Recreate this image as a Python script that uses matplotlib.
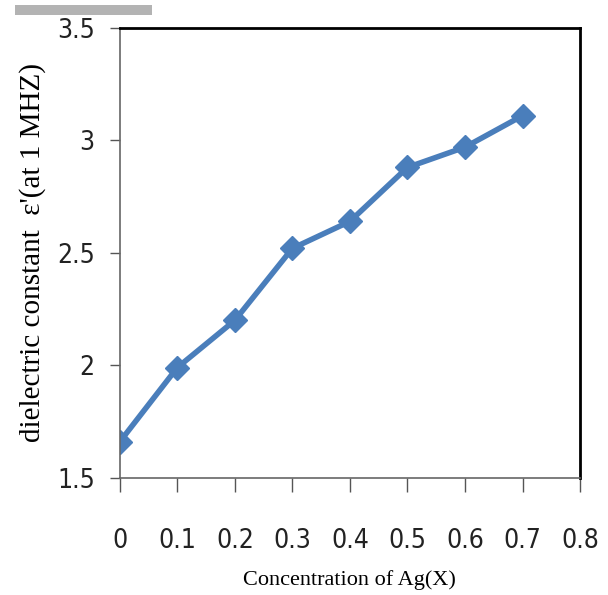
import matplotlib.pyplot as plt
from matplotlib.patches import Rectangle

# Ag concentration vs dielectric constant at 1 MHz
conc = [0, 0.1, 0.2, 0.3, 0.4, 0.5, 0.6, 0.7]
eps = [1.66, 1.99, 2.20, 2.52, 2.64, 2.88, 2.97, 3.11]

xticks = [0, 0.1, 0.2, 0.3, 0.4, 0.5, 0.6, 0.7, 0.8]
xtick_labels = ['0', '0.1', '0.2', '0.3', '0.4', '0.5', '0.6', '0.7', '0.8']
yticks = [1.5, 2, 2.5, 3, 3.5]
ytick_labels = ['1.5', '2', '2.5', '3', '3.5']

fig = plt.figure(figsize=(6.08, 5.95), dpi=100)
ax = fig.add_axes([0.197, 0.197, 0.757, 0.756])

# grey smudge at the top-left of the scan
fig.patches.append(Rectangle((0.025, 0.975), 0.225, 0.017, transform=fig.transFigure,
                             color='#a0a0a0', alpha=0.8, lw=0))

ax.plot(conc, eps, color='#4a7ebb', lw=4, marker='D', ms=12,
        markeredgecolor='#4a7ebb')

ax.set_xlim(0, 0.8)
ax.set_ylim(1.5, 3.5)
ax.set_xticks(xticks)
ax.set_xticklabels(xtick_labels)
ax.set_yticks(yticks)
ax.set_yticklabels(ytick_labels)

for lab in ax.get_xticklabels() + ax.get_yticklabels():
    lab.set_fontfamily(['DejaVu Sans'])
    lab.set_fontstretch('condensed')
    lab.set_fontsize(19)
    lab.set_color('#222222')

ax.tick_params(direction='out', width=1, color='#555555')
ax.tick_params(axis='x', length=10, pad=26)
ax.tick_params(axis='y', length=7, pad=11)

for side in ['left', 'bottom']:
    ax.spines[side].set_color('#666666')
    ax.spines[side].set_linewidth(1.2)
for side in ['top', 'right']:
    ax.spines[side].set_color('black')
    ax.spines[side].set_linewidth(2)

ax.set_xlabel('Concentration of Ag(X)', family=['Liberation Serif', 'DejaVu Serif'],
              size=16, labelpad=12)
ax.set_ylabel("dielectric constant  \u03b5'(at 1 MHZ)",
              family=['Liberation Serif', 'DejaVu Serif'], size=21, labelpad=8)

fig.savefig('out.png', dpi=100)
